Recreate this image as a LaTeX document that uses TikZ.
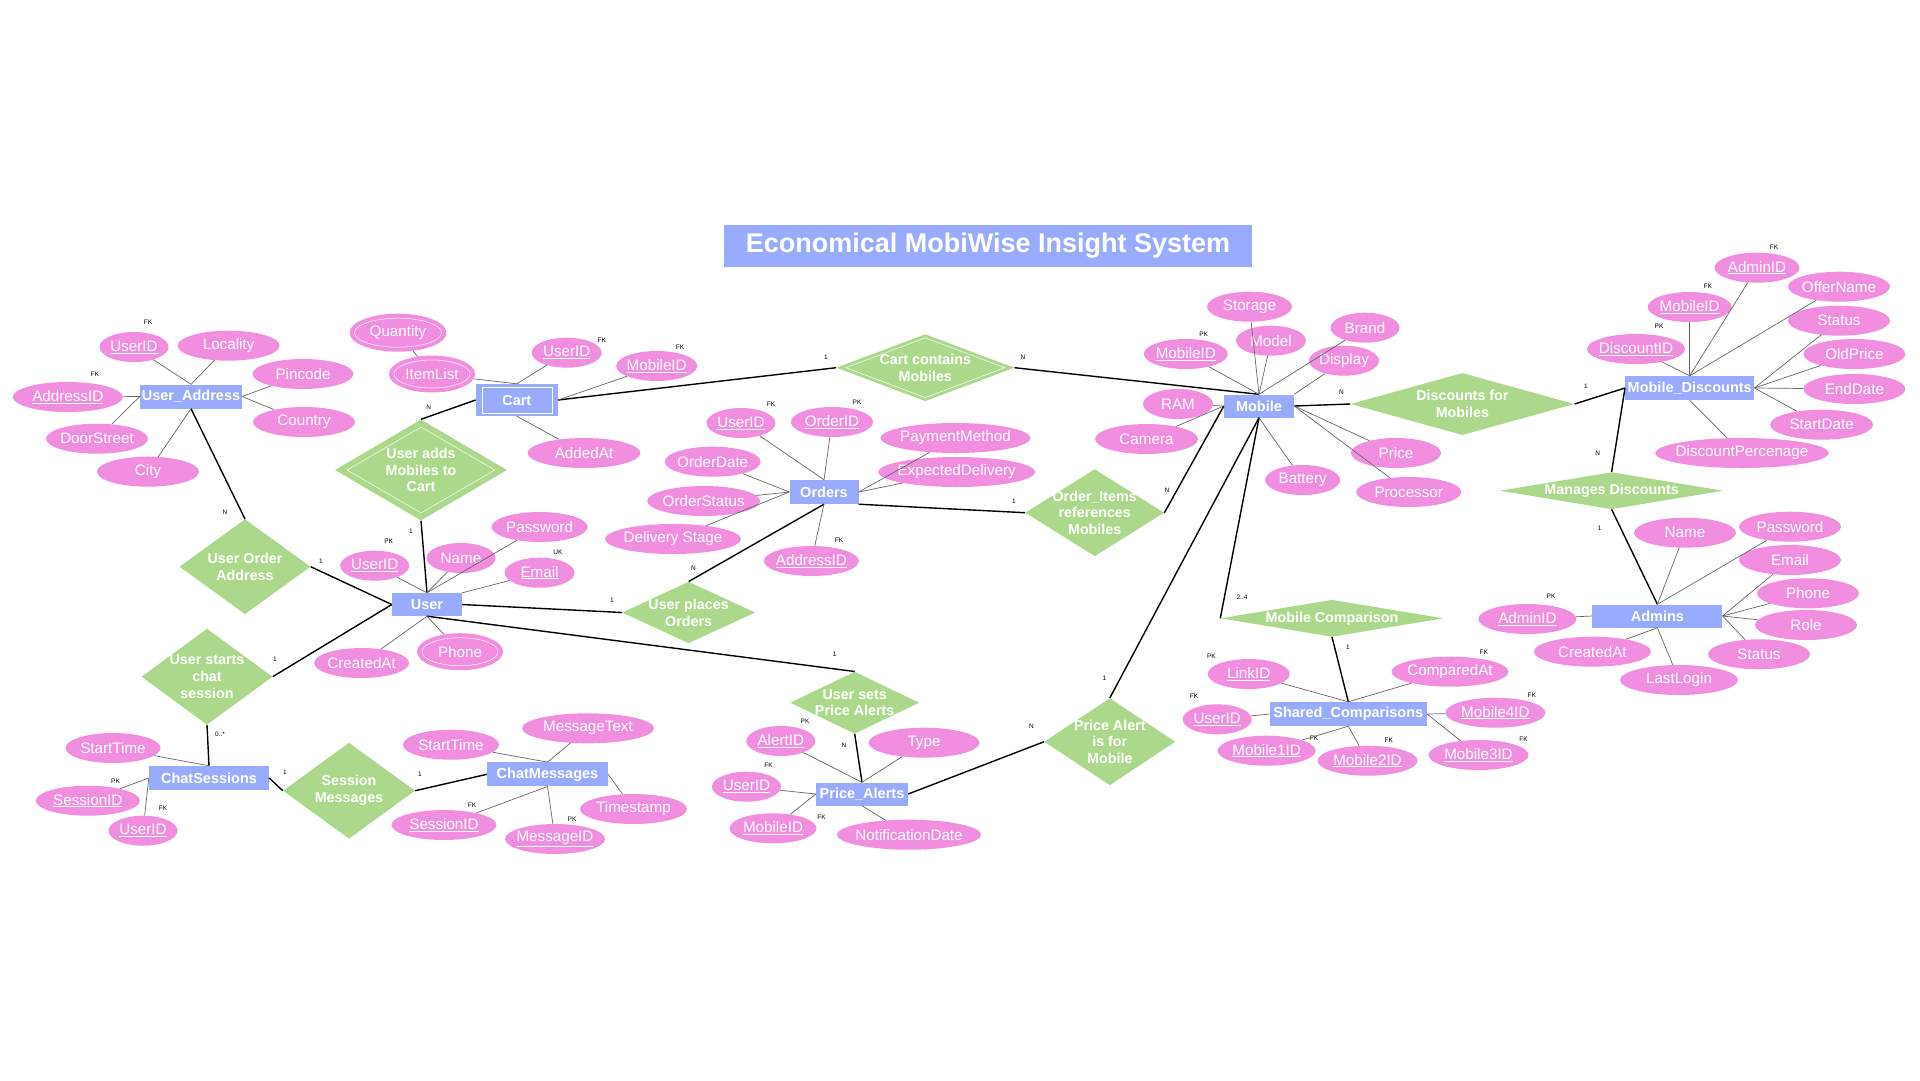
\documentclass[tikz,border=0pt]{standalone}
\usepackage{fontspec}
\setmainfont{Liberation Sans}
\usetikzlibrary{shapes.geometric}
\definecolor{entc}{HTML}{99ABFF}
\definecolor{attc}{HTML}{F28EDF}
\definecolor{relc}{HTML}{ABD88A}
\tikzset{
 ent/.style={fill=entc, rectangle, text=white, font=\bfseries\fontsize{14.5}{16}\selectfont, inner sep=0pt},
 attr/.style={fill=attc, ellipse, text=white, font=\fontsize{15.2}{16}\selectfont, inner sep=-5pt, minimum height=30pt},
 dblin/.style={draw=white, line width=0.5pt, inner sep=0pt},
 relshape/.style={fill=relc, diamond, inner sep=0pt},
 reltext/.style={text=white, font=\bfseries\fontsize{14.3}{16.8}\selectfont, align=center, inner sep=0pt},
 card/.style={font=\fontsize{6.5}{7}\selectfont, inner sep=0pt},
 aline/.style={draw=black!60, line width=0.7pt},
 rline/.style={draw=black, line width=1.4pt},
}
\newcommand{\rel}[6]{% name, x, y, w, h, text
 \node[relshape, minimum width=#4pt, minimum height=#5pt, label={[reltext]center:{#6}}] (#1) at (#2,#3) {};}
\begin{document}
\begin{tikzpicture}[x=1pt,y=-1pt]
\useasboundingbox[fill=white] (0,0) rectangle (1920,1080);
% title
\node[fill=entc, minimum width=528pt, minimum height=42pt, inner sep=0pt, text=white, font=\bfseries\fontsize{27}{30}\selectfont] (title) at (988,246) {\raisebox{-1.5pt}{Economical MobiWise Insight System}};

% entities
\node[ent, minimum width=102pt, minimum height=24pt] (ua) at (191,396.5) {User\_Address};
\node[ent, minimum width=82pt, minimum height=32pt] (cart) at (516.8,400) {Cart};
\node[dblin, rectangle, minimum width=70pt, minimum height=25.5pt] (cartin) at (516.8,400) {};
\node[ent, minimum width=70pt, minimum height=23pt] (user) at (427,604.5) {User};
\node[ent, minimum width=69pt, minimum height=24pt] (orders) at (824,492) {Orders};
\node[ent, minimum width=70pt, minimum height=23pt] (mobile) at (1259,406) {Mobile};
\node[ent, minimum width=129pt, minimum height=24pt] (md) at (1689.7,388) {Mobile\_Discounts};
\node[ent, minimum width=130pt, minimum height=23pt] (admins) at (1657.4,616) {Admins};
\node[ent, minimum width=157pt, minimum height=24pt] (sc) at (1348.3,714) {Shared\_Comparisons};
\node[ent, minimum width=92pt, minimum height=23pt] (pa) at (862,794) {Price\_Alerts};
\node[ent, minimum width=120pt, minimum height=24pt] (cs) at (209,778) {ChatSessions};
\node[ent, minimum width=121pt, minimum height=24pt] (cm) at (547.5,774.3) {ChatMessages};

% relationships
\rel{uoa}{245}{566.7}{131}{95}{User Order\\Address}
\rel{uamc}{421}{470}{172}{101}{User adds\\Mobiles to\\Cart}
\node[dblin, diamond, minimum width=148pt, minimum height=86pt] (uamcin) at (421,470) {};
\rel{ccm}{925.3}{367.7}{178}{67}{Cart contains\\Mobiles}
\node[dblin, diamond, minimum width=159pt, minimum height=60pt] (ccmin) at (925.3,367.7) {};
\rel{upo}{688.6}{612.5}{133}{61.5}{User places\\Orders}
\rel{oirm}{1094.7}{512.7}{139}{87}{Order\_Items\\references\\Mobiles}
\rel{dfm}{1462.4}{404}{224}{62}{Discounts for\\Mobiles}
\rel{mdisc}{1611.6}{490.7}{223}{37}{Manages Discounts}
\rel{mc}{1332}{618.3}{223}{37}{Mobile Comparison}
\rel{uspa}{854.7}{702.7}{129}{62}{User sets\\Price Alerts}
\rel{paim}{1109.8}{741.7}{131}{87}{Price Alert\\is for\\Mobile}
\rel{ucs}{207}{676.7}{131}{96}{User starts\\chat\\session}
\rel{sm}{349}{790.7}{132}{96}{Session\\Messages}

% relationship connectors
\draw[rline] (ua.south) -- (uoa.north);
\draw[rline] (uoa.east) -- (user.west);
\draw[rline] (uamc.south) -- (user.north);
\draw[rline] (uamc.north) -- (cart.west);
\draw[rline] (cart.east) -- (ccm.west);
\draw[rline] (ccm.east) -- (mobile.north);
\draw[rline] (user.east) -- (upo.west);
\draw[rline] (upo.north) -- (orders.south);
\draw[rline] (orders.south east) -- (oirm.west);
\draw[rline] (oirm.east) -- (mobile.west);
\draw[rline] (user.south) -- (uspa.north);
\draw[rline] (uspa.south) -- (pa.north);
\draw[rline] (pa.east) -- (paim.west);
\draw[rline] (paim.north) -- (mobile.south);
\draw[rline] (mobile.south) -- (mc.west);
\draw[rline] (mc.south) -- (sc.north);
\draw[rline] (mobile.east) -- (dfm.west);
\draw[rline] (dfm.east) -- (md.west);
\draw[rline] (md.west) -- (mdisc.north);
\draw[rline] (mdisc.south) -- (admins.north);
\draw[rline] (user.west) -- (ucs.east);
\draw[rline] (ucs.south) -- (cs.north);
\draw[rline] (cs.east) -- (sm.west);
\draw[rline] (sm.east) -- (cm.west);

% cardinalities
\node[card] (k1) at (225,512) {N};
\node[card] (k2) at (321,561) {1};
\node[card] (k3) at (428.6,407) {N};
\node[card] (k4) at (411,531) {1};
\node[card] (k5) at (826,357) {1};
\node[card] (k6) at (1023,357) {N};
\node[card] (k7) at (612,600) {1};
\node[card] (k8) at (693.5,568) {N};
\node[card] (k9) at (1014,501) {1};
\node[card] (k10) at (1167,490) {N};
\node[card] (k11) at (1341.5,392) {N};
\node[card] (k12) at (1585.8,386) {1};
\node[card] (k13) at (1597.7,453) {N};
\node[card] (k14) at (1599.7,528) {1};
\node[card] (k15) at (1242,597.3) {2..4};
\node[card] (k16) at (1348,647.3) {1};
\node[card] (k17) at (834.7,654.3) {1};
\node[card] (k18) at (844,745) {N};
\node[card] (k19) at (1031.4,726.7) {N};
\node[card] (k20) at (1104.5,678.3) {1};
\node[card] (k21) at (275,659) {1};
\node[card] (k22) at (220,734) {0..*};
\node[card] (k23) at (285,772) {1};
\node[card] (k24) at (420,774) {1};

% ---------- User_Address attributes ----------
\node[attr, minimum width=69pt] (uauid) at (134,347) {\underline{UserID}};
\node[attr, minimum width=102pt] (ualoc) at (228.6,345.7) {Locality};
\node[attr, minimum width=101pt] (uapin) at (303,374) {Pincode};
\node[attr, minimum width=102pt] (uacty) at (304,422) {Country};
\node[attr, minimum width=110pt] (uaaid) at (67.8,397) {\underline{AddressID}};
\node[attr, minimum width=102pt] (uadoor) at (97,438.7) {DoorStreet};
\node[attr, minimum width=102pt] (uacity) at (148,471.7) {City};
\node[card] (f1) at (148,322) {FK};
\node[card] (f2) at (94.7,374) {FK};
\draw[aline] (ua.north) -- (uauid);
\draw[aline] (ua.north) -- (ualoc);
\draw[aline] (ua.east) -- (uapin);
\draw[aline] (ua.east) -- (uacty);
\draw[aline] (ua.west) -- (uaaid);
\draw[aline] (ua.west) -- (uadoor);
\draw[aline] (ua.south) -- (uacity);

% ---------- Cart attributes ----------
\node[attr, minimum width=97pt, minimum height=38pt] (cqty) at (398,332.7) {Quantity};
\node[dblin, ellipse, minimum width=87pt, minimum height=29pt] (cqtyin) at (398,332.7) {};
\node[attr, minimum width=86pt, minimum height=37pt] (cil) at (432,374) {ItemList};
\node[dblin, ellipse, minimum width=76pt, minimum height=28pt] (cilin) at (432,374) {};
\node[attr, minimum width=70pt] (cuid) at (566.7,352.7) {\underline{UserID}};
\node[attr, minimum width=81pt] (cmid) at (656.7,366) {\underline{MobileID}};
\node[attr, minimum width=113pt] (cadd) at (584,453) {AddedAt};
\node[card] (f3) at (601.7,340) {FK};
\node[card] (f4) at (680,347) {FK};
\draw[aline] (cqty) -- (cil);
\draw[aline] (cart.north) -- (cil);
\draw[aline] (cart.north) -- (cuid);
\draw[aline] (cart.east) -- (cmid);
\draw[aline] (cart.south) -- (cadd);

% ---------- User attributes ----------
\node[attr, minimum width=69pt] (uuid) at (374.7,565.7) {\underline{UserID}};
\node[attr, minimum width=69pt] (uname) at (461,558) {Name};
\node[attr, minimum width=96pt] (upw) at (539.6,527) {Password};
\node[attr, minimum width=70pt] (uemail) at (539.6,572.7) {\underline{Email}};
\node[attr, minimum width=86pt, minimum height=37pt] (uphone) at (460,651.7) {Phone};
\node[dblin, ellipse, minimum width=76pt, minimum height=28pt] (uphonein) at (460,651.7) {};
\node[attr, minimum width=95pt] (ucre) at (361.6,663) {CreatedAt};
\node[card] (f5) at (388.6,541) {PK};
\node[card] (f6) at (558,552) {UK};
\draw[aline] (user.north) -- (uuid);
\draw[aline] (user.north) -- (uname);
\draw[aline] (user.north) -- (upw);
\draw[aline] (user.north east) -- (uemail);
\draw[aline] (user.south) -- (uphone);
\draw[aline] (user.south) -- (ucre);

% ---------- Orders attributes ----------
\node[attr, minimum width=69pt] (ouid) at (741,423) {\underline{UserID}};
\node[attr, minimum width=82pt] (ooid) at (832,422) {\underline{OrderID}};
\node[attr, minimum width=150pt] (opm) at (955.5,438) {PaymentMethod};
\node[attr, minimum width=157pt] (oed) at (956.7,472) {ExpectedDelivery};
\node[attr, minimum width=96pt] (ood) at (712.7,461.7) {OrderDate};
\node[attr, minimum width=113pt] (oos) at (703.7,501) {OrderStatus};
\node[attr, minimum width=136pt] (ods) at (673,539) {Delivery Stage};
\node[attr, minimum width=95pt] (oaid) at (811.4,561) {\underline{AddressID}};
\node[card] (f7) at (771,404) {FK};
\node[card] (f8) at (857,402) {PK};
\node[card] (f9) at (839,540) {FK};
\draw[aline] (orders.north) -- (ouid);
\draw[aline] (orders.north) -- (ooid);
\draw[aline] (orders.east) -- (opm);
\draw[aline] (orders.east) -- (oed);
\draw[aline] (orders.west) -- (ood);
\draw[aline] (orders.west) -- (oos);
\draw[aline] (orders.west) -- (ods);
\draw[aline] (orders.south) -- (oaid);

% ---------- Mobile attributes ----------
\node[attr, minimum width=85pt] (msto) at (1249.5,306.7) {Storage};
\node[attr, minimum width=70pt] (mmod) at (1271,340.7) {Model};
\node[attr, minimum width=84pt] (mmid) at (1185.8,354) {\underline{MobileID}};
\node[attr, minimum width=69pt] (mbr) at (1365,327.7) {Brand};
\node[attr, minimum width=70pt] (mdis) at (1344,360.7) {Display};
\node[attr, minimum width=70pt] (mram) at (1178,404) {RAM};
\node[attr, minimum width=103pt] (mcam) at (1146.5,439) {Camera};
\node[attr, minimum width=90pt] (mpr) at (1396,453) {Price};
\node[attr, minimum width=75pt] (mbat) at (1302.7,480) {Battery};
\node[attr, minimum width=105pt] (mproc) at (1408.7,492) {Processor};
\node[card] (f10) at (1203.7,334) {PK};
\draw[aline] (mobile.north) -- (msto);
\draw[aline] (mobile.north) -- (mmod);
\draw[aline] (mobile.north) -- (mmid);
\draw[aline] (mobile.north) -- (mbr);
\draw[aline] (mobile.north east) -- (mdis);
\draw[aline] (mobile.east) -- (mpr);
\draw[aline] (mobile.east) -- (mproc);
\draw[aline] (mobile.south) -- (mbat);
\draw[aline] (mobile.west) -- (mram);
\draw[aline] (mobile.west) -- (mcam);

% ---------- Mobile_Discounts attributes ----------
\node[attr, minimum width=98pt] (mddid) at (1636,349) {\underline{DiscountID}};
\node[attr, minimum width=84pt] (mdmid) at (1689.7,307) {\underline{MobileID}};
\node[attr, minimum width=85pt] (mdaid) at (1757,267.7) {\underline{AdminID}};
\node[attr, minimum width=102pt] (mdoff) at (1839,286.7) {OfferName};
\node[attr, minimum width=102pt] (mdst) at (1839,320.7) {Status};
\node[attr, minimum width=102pt] (mdop) at (1854.4,354) {OldPrice};
\node[attr, minimum width=102pt] (mded) at (1854.4,389) {EndDate};
\node[attr, minimum width=103pt] (mdsd) at (1821.6,424.7) {StartDate};
\node[attr, minimum width=173pt] (mddp) at (1742,453) {DiscountPercenage};
\node[card] (f11) at (1659,326) {PK};
\node[card] (f12) at (1707.7,286) {FK};
\node[card] (f13) at (1774,247) {FK};
\draw[aline] (md.north) -- (mddid);
\draw[aline] (md.north) -- (mdmid);
\draw[aline] (md.north) -- (mdaid);
\draw[aline] (md.north) -- (mdoff);
\draw[aline] (md.east) -- (mdst);
\draw[aline] (md.east) -- (mdop);
\draw[aline] (md.east) -- (mded);
\draw[aline] (md.east) -- (mdsd);
\draw[aline] (md.south) -- (mddp);

% ---------- Admins attributes ----------
\node[attr, minimum width=102pt] (aname) at (1685,532.7) {Name};
\node[attr, minimum width=102pt] (apw) at (1790,526.7) {Password};
\node[attr, minimum width=102pt] (aemail) at (1790,560) {Email};
\node[attr, minimum width=102pt] (aph) at (1808,593.3) {Phone};
\node[attr, minimum width=102pt] (arole) at (1806,625) {Role};
\node[attr, minimum width=102pt] (ast) at (1759,654.3) {Status};
\node[attr, minimum width=118pt] (all) at (1679,680) {LastLogin};
\node[attr, minimum width=117pt] (acr) at (1592.4,651.7) {CreatedAt};
\node[attr, minimum width=98pt] (aaid) at (1527.4,619) {\underline{AdminID}};
\node[card] (f14) at (1551,596.7) {PK};
\draw[aline] (admins.north) -- (aname);
\draw[aline] (admins.north) -- (apw);
\draw[aline] (admins.east) -- (aemail);
\draw[aline] (admins.east) -- (aph);
\draw[aline] (admins.east) -- (arole);
\draw[aline] (admins.east) -- (ast);
\draw[aline] (admins.south) -- (all);
\draw[aline] (admins.south) -- (acr);
\draw[aline] (admins.west) -- (aaid);

% ---------- Shared_Comparisons attributes ----------
\node[attr, minimum width=82pt] (sclink) at (1248.7,674) {\underline{LinkID}};
\node[attr, minimum width=69pt] (scuid) at (1217.2,719.3) {\underline{UserID}};
\node[attr, minimum width=98pt] (scm1) at (1266.6,750.7) {\underline{Mobile1ID}};
\node[attr, minimum width=100pt] (scm2) at (1367.5,760.7) {\underline{Mobile2ID}};
\node[attr, minimum width=100pt] (scm3) at (1478.5,755) {\underline{Mobile3ID}};
\node[attr, minimum width=100pt] (scm4) at (1495.4,712.7) {\underline{Mobile4ID}};
\node[attr, minimum width=117pt] (scca) at (1450,671.7) {ComparedAt};
\node[card] (f15) at (1211.4,656) {PK};
\node[card] (f16) at (1194,696) {FK};
\node[card] (f17) at (1314,738) {FK};
\node[card] (f18) at (1388.8,740.7) {FK};
\node[card] (f19) at (1523.5,739) {FK};
\node[card] (f20) at (1531.8,695) {FK};
\node[card] (f21) at (1483.8,652) {FK};
\draw[aline] (sc.north) -- (sclink);
\draw[aline] (sc.north) -- (scca);
\draw[aline] (sc.west) -- (scuid);
\draw[aline] (sc.south) -- (scm1);
\draw[aline] (sc.south) -- (scm2);
\draw[aline] (sc.east) -- (scm4);
\draw[aline] (sc.east) -- (scm3);

% ---------- Price_Alerts attributes ----------
\node[attr, minimum width=69pt] (paal) at (780.8,741) {\underline{AlertID}};
\node[attr, minimum width=111pt] (paty) at (924,742.7) {Type};
\node[attr, minimum width=69pt] (pauid) at (746.5,786.7) {\underline{UserID}};
\node[attr, minimum width=87pt] (pamid) at (773,828.3) {\underline{MobileID}};
\node[attr, minimum width=144pt] (pand) at (909,834.7) {NotificationDate};
\node[card] (f22) at (805,721.3) {PK};
\node[card] (f23) at (768.6,765.3) {FK};
\node[card] (f24) at (821.6,817) {FK};
\draw[aline] (pa.north) -- (paal);
\draw[aline] (pa.north) -- (paty);
\draw[aline] (pa.west) -- (pauid);
\draw[aline] (pa.west) -- (pamid);
\draw[aline] (pa.south) -- (pand);

% ---------- ChatSessions attributes ----------
\node[attr, minimum width=95pt] (csst) at (113,748) {StartTime};
\node[attr, minimum width=104pt] (cssid) at (87.8,800.7) {\underline{SessionID}};
\node[attr, minimum width=69pt] (csuid) at (143,830.7) {\underline{UserID}};
\node[card] (f25) at (115.5,781) {PK};
\node[card] (f26) at (163,808) {FK};
\draw[aline] (cs.north) -- (csst);
\draw[aline] (cs.west) -- (cssid);
\draw[aline] (cs.west) -- (csuid);

% ---------- ChatMessages attributes ----------
\node[attr, minimum width=96pt] (cmst) at (451,744.7) {StartTime};
\node[attr, minimum width=132pt] (cmmt) at (588,728.3) {MessageText};
\node[attr, minimum width=105pt] (cmsid) at (444,825) {\underline{SessionID}};
\node[attr, minimum width=100pt] (cmmid) at (555,839) {\underline{MessageID}};
\node[attr, minimum width=107pt] (cmts) at (633.5,809) {Timestamp};
\node[card] (f27) at (472,805) {FK};
\node[card] (f28) at (572,819) {PK};
\draw[aline] (cm.north) -- (cmst);
\draw[aline] (cm.north) -- (cmmt);
\draw[aline] (cm.south) -- (cmsid);
\draw[aline] (cm.south) -- (cmmid);
\draw[aline] (cm.east) -- (cmts);
\end{tikzpicture}
\end{document}
